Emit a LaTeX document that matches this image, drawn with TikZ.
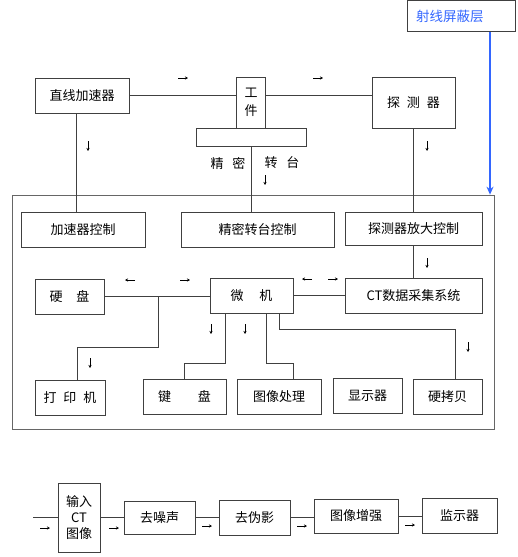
\documentclass[tikz,border=0pt]{standalone}
\usepackage{fontspec}
\setmainfont{Noto Sans CJK SC}
\usetikzlibrary{arrows.meta, positioning}
\definecolor{shieldblue}{RGB}{51,102,255}

\begin{document}
\begin{tikzpicture}[
      x=1pt, y=-1pt, font=\fontsize{13}{16}\selectfont,
      box/.style={draw=black!75, line width=0.7pt, align=center, inner sep=0pt},
      cell/.style={box, minimum height=35},
      wire/.style={draw=black!75, line width=0.7pt},
      flow/.style={-{Stealth[length=3pt, width=3pt]}, line width=0.5pt},
    ]
      \useasboundingbox (0,0) rectangle (518,557);

      % upper part: source, object, detector
      \node[box, minimum width=108, minimum height=31, text width=90, align=left,
            text=shieldblue, font=\fontsize{13.5}{16}\selectfont] (shield) at (461,16) {射线屏蔽层};
      \node[cell, minimum width=94] (accel) at (82,95.5) {直线加速器};
      \node[box, minimum width=110, minimum height=18] (plat) at (251,137) {};
      \node[box, minimum width=29, minimum height=51, font=\fontsize{13}{18}\selectfont] (work) at (251,102.5) {工\\件};
      \node[box, minimum width=83, minimum height=51] (det) at (413.5,102.5) {探\hspace{7pt}测\hspace{7pt}器};
      \node (platA) at (228,163) {精\hspace{9pt}密};
      \node (platB) at (282,163) {转\hspace{9pt}台};

      % control frame
      \node[box, draw=black!60, minimum width=482, minimum height=234] (frame) at (253,312) {};
      \node[cell, minimum width=124] (accctl) at (83,229.5) {加速器控制};
      \node[cell, minimum width=153] (platctl) at (257.5,229.5) {精密转台控制};
      \node[cell, minimum width=137, minimum height=33] (detctl) at (413.5,228.5) {探测器放大控制};
      \node[cell, minimum width=69] (disk) at (69.5,296.5) {硬\hspace{14pt}盘};
      \node[cell, minimum width=83] (pc) at (251.5,295.5) {微\hspace{16pt}机};
      \node[cell, minimum width=137] (daq) at (413.5,295.5) {CT数据采集系统};
      \node[cell, minimum width=70] (printer) at (70,397.5) {打\hspace{7pt}印\hspace{7pt}机};
      \node[cell, minimum width=83] (kbd) at (184.5,396.5) {键\hspace{27pt}盘};
      \node[cell, minimum width=84] (imgproc) at (279,396.5) {图像处理};
      \node[cell, minimum width=69] (disp) at (367.5,395.5) {显示器};
      \node[cell, minimum width=69] (hcopy) at (447.5,396.5) {硬拷贝};

      % image chain
      \node[box, minimum width=42, minimum height=69] (input) at (79,517.5) {输入\\CT\\图像};
      \node[cell, minimum width=71, minimum height=33] (denoise) at (159.5,517.5) {去噪声};
      \node[cell, minimum width=71] (deart) at (254.5,517.5) {去伪影};
      \node[cell, minimum width=84, minimum height=34] (enh) at (356,516) {图像增强};
      \node[cell, minimum width=75] (mon) at (459.5,515.5) {监示器};
      \coordinate (src) at (33,517.5);
      \coordinate (tap) at (158,296.5);

      \draw[wire] (accel.east) -- (accel.east -| work.west);
      \draw[wire] (work.east |- accel.east) -- (det.west |- accel.east);
      \draw[wire] ([xshift=-6pt]accel.south) -- ([xshift=-6pt]accel.south |- accctl.north);
      \draw[wire] (plat.south) -- (plat.south |- platctl.north);
      \draw[wire] (det.south) -- (det.south |- detctl.north);
      \draw[wire] (detctl.south) -- (daq.north);
      \draw[wire] (disk.east) -- (disk.east -| pc.west);
      \draw[wire] (pc.east) -- (pc.east -| daq.west);
      \draw[wire] (tap) -- ++(0,51) -| ([xshift=7pt]printer.north);
      \draw[wire] ([xshift=-26.5pt]pc.south) -- ++(0,50) -| (kbd.north);
      \draw[wire] ([xshift=14.5pt]pc.south) -- ++(0,50) -| ([xshift=14pt]imgproc.north);
      \draw[wire] ([xshift=27.5pt]pc.south) -- ++(0,16) -| ([xshift=7.5pt]hcopy.north);
      \draw[shieldblue, line width=1.6pt, -{Stealth[length=8pt, width=7pt]}]
        ([xshift=29pt]shield.south) -- ([xshift=29pt]shield.south |- frame.north);

      \draw[wire] (src) -- (input.west);
      \draw[wire] (input.east) -- (input.east -| denoise.west);
      \draw[wire] (denoise.east) -- (denoise.east -| deart.west);
      \draw[wire] (deart.east) -- (deart.east -| enh.west);
      \draw[wire] (enh.east) -- (enh.east -| mon.west);

      % small direction marks
      \foreach \px/\py in {183/78, 318/78, 185/280, 333/279, 45/528, 114/528, 207/526, 302/526, 410/525}
        \draw[flow] (\px-5,\py) -- ++(10,0);
      \foreach \px/\py in {130/280, 307/279}
        \draw[flow] (\px+5,\py) -- ++(-10,0);
      \foreach \px/\py in {88/146, 265/180, 427/146, 427/263, 211/329, 245/329, 90/363, 468/347}
        \draw[flow] (\px,\py-5) -- ++(0,10);
    \end{tikzpicture}
\end{document}
